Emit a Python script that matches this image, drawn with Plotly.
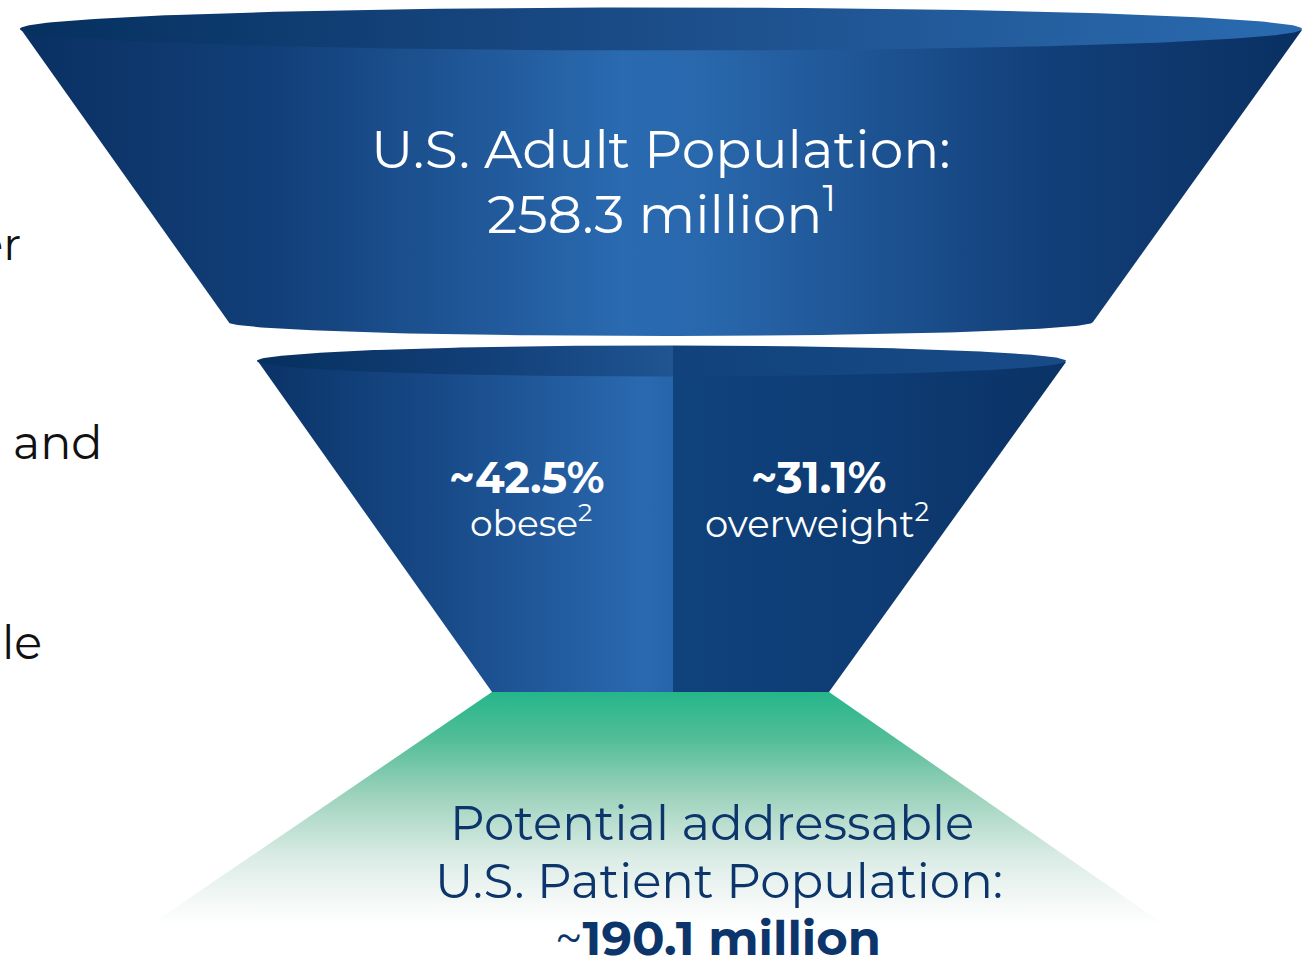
import numpy as np
import plotly.graph_objects as go

# ---- data -------------------------------------------------------------
adult_population_m = 258.3          # U.S. adults, millions
obese_pct = 42.5                    # share obese
overweight_pct = 31.1               # share overweight
addressable_m = 190.1               # potential addressable patients, millions

top_title = "U.S. Adult Population:"
split_labels = ["obese", "overweight"]
bottom_title = ["Potential addressable", "U.S. Patient Population:"]
side_fragments = ["er", "and", "le"]

# ---- canvas -----------------------------------------------------------
W, H = 1307, 959
FONT = "Montserrat, Inter, 'Open Sans', sans-serif"
NAVY = "#0c356b"


def ellipse_piece(cx, cy, a, b, x0, x1, n=120):
    """Closed outline of the part of an ellipse lying between x0 and x1."""
    t0 = np.arccos(np.clip((cx - x0) / a, -1, 1))
    t1 = np.arccos(np.clip((cx - x1) / a, -1, 1))
    t = np.linspace(t0, t1, n)
    xs = cx - a * np.cos(t)
    up = cy - b * np.sin(t)
    lo = cy + b * np.sin(t)
    return list(xs) + list(xs[::-1]), list(up) + list(lo[::-1])


def lower_arc(cx, cy, a, b, x0, x1, n=120):
    t0 = np.arccos(np.clip((cx - x0) / a, -1, 1))
    t1 = np.arccos(np.clip((cx - x1) / a, -1, 1))
    t = np.linspace(t0, t1, n)
    return list(cx - a * np.cos(t)), list(cy + b * np.sin(t))


fig = go.Figure()


def shape(xs, ys, scale, kind="horizontal", start=None, stop=None):
    grad = dict(type=kind, colorscale=scale)
    if start is not None:
        grad["start"] = start
        grad["stop"] = stop
    fig.add_trace(go.Scatter(
        x=xs, y=ys, mode="lines", fill="toself", line=dict(width=0),
        fillgradient=grad, hoverinfo="skip", showlegend=False))


# ---- top stage: whole adult population ---------------------------------
tcx, tcy, ta, tb = 661, 29, 641, 21.5
bcx, bcy, ba, bb = 660.5, 322, 432.5, 14
ax, ay = lower_arc(bcx, bcy, ba, bb, 228, 1093)
shape([20, 228] + ax + [1093, 1302], [28, 322] + ay + [322, 30],
      [[0, "#0a3062"], [0.2, "#123f79"], [0.47, "#2a6ab0"], [0.53, "#2968ad"],
       [0.8, "#123f79"], [1, "#0a3062"]])
ex, ey = ellipse_piece(tcx, tcy, ta, tb, tcx - ta, tcx + ta)
shape(ex, ey, [[0, "#05305f"], [0.45, "#1a4a85"], [1, "#2a6bb0"]])

# ---- middle stage: obese | overweight -----------------------------------
split_x = 673
mcx, mcy, ma, mb = 661.5, 361, 404.5, 15.5
shape([257, 492, split_x, split_x], [360, 692, 692, 360],
      [[0, "#0a3367"], [0.45, "#184a88"], [0.93, "#2a69b0"], [1, "#2765aa"]])
shape([split_x, split_x, 829, 1066], [360, 692, 692, 362],
      [[0, "#10427c"], [0.5, "#0e3c74"], [1, "#0a3265"]])
lx, ly = ellipse_piece(mcx, mcy, ma, mb, mcx - ma, split_x)
shape(lx, ly, [[0, "#05305f"], [0.55, "#123f78"], [1, "#1f5592"]])
rx, ry = ellipse_piece(mcx, mcy, ma, mb, split_x, mcx + ma)
shape(rx, ry, [[0, "#11427b"], [1, "#184b88"]])

# ---- bottom stage: addressable population -------------------------------
shape([492, 829, 1165, 150], [692, 692, 925, 925],
      [[0, "#25b68a"], [0.2, "#52bd98"], [0.45, "#9fd3be"], [0.7, "#d9ebe4"],
       [0.88, "#f2f7f5"], [1, "#ffffff"]],
      kind="vertical", start=692, stop=925)

# ---- text ---------------------------------------------------------------
ann = []


def label(x, y, text, size, color="white", anchor="center", xref="x"):
    ann.append(dict(x=x, y=y, xref=xref, yref="y", text=text, showarrow=False,
                    xanchor=anchor, yanchor="middle",
                    font=dict(family=FONT, size=size, color=color)))


label(661, 148, top_title, 53.5)
label(661, 210, f"{adult_population_m} million<sup>1</sup>", 53.5)
label(526, 477, f"<b>~{obese_pct}%</b>", 43)
label(531, 521, f"{split_labels[0]}<sup>2</sup>", 36)
label(818, 477, f"<b>~{overweight_pct}%</b>", 44)
label(817, 521, f"{split_labels[1]}<sup>2</sup>", 37)
label(712, 822, bottom_title[0], 48.3, NAVY)
label(718.5, 880, bottom_title[1], 48.3, NAVY)
label(718, 938, f"~<b>{addressable_m} million</b>", 48, NAVY)

label(23, 243, side_fragments[0], 45, "#111111", "right")
label(104, 442, side_fragments[1], 46, "#111111", "right")
label(0.0, 642, side_fragments[2], 46, "#111111", "left", xref="paper")

fig.update_layout(
    width=W, height=H, margin=dict(l=0, r=0, t=0, b=0),
    paper_bgcolor="white", plot_bgcolor="white",
    xaxis=dict(range=[0, W], visible=False, fixedrange=True),
    yaxis=dict(range=[H, 0], visible=False, fixedrange=True),
    annotations=ann, showlegend=False,
)

fig.write_html("out.html")
